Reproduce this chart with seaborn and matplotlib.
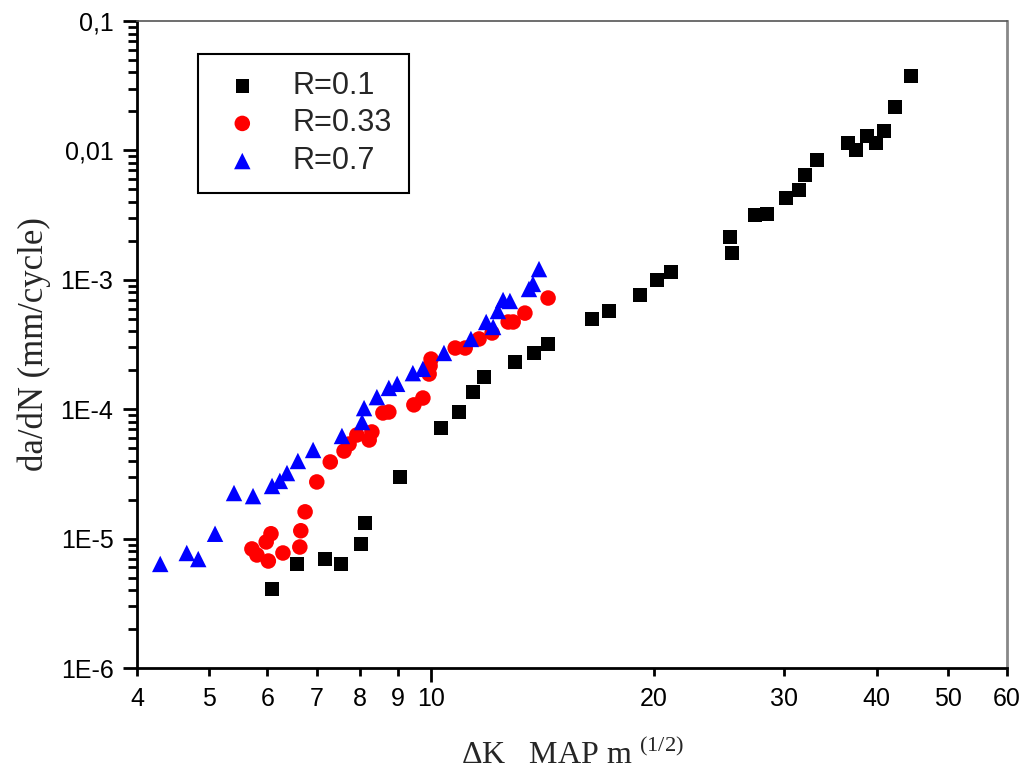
import numpy as np
import pandas as pd
import seaborn as sns
import matplotlib.pyplot as plt
from matplotlib.ticker import FixedLocator, FixedFormatter, NullFormatter, LogLocator

# R=0.1
dk_r01 = [6.09, 6.58, 7.18, 7.55, 8.03, 8.13, 9.07, 10.30, 10.90, 11.38, 11.78, 12.97,
          13.77, 14.38, 16.49, 17.39, 19.14, 20.19, 21.09, 25.34, 25.50, 27.38, 28.42,
          30.16, 31.41, 32.0, 33.22, 36.58, 37.50, 38.81, 39.9, 40.91, 42.33, 44.51]
rate_r01 = [4.08e-6, 6.37e-6, 6.95e-6, 6.37e-6, 9.08e-6, 1.32e-5, 2.99e-5, 7.16e-5, 9.51e-5,
            1.36e-4, 1.77e-4, 2.32e-4, 2.72e-4, 3.19e-4, 4.98e-4, 5.74e-4, 7.63e-4, 9.96e-4,
            1.15e-3, 2.14e-3, 1.61e-3, 3.17e-3, 3.23e-3, 4.29e-3, 4.94e-3, 6.46e-3, 8.43e-3,
            1.14e-2, 1.01e-2, 1.29e-2, 1.14e-2, 1.41e-2, 2.16e-2, 3.76e-2]

# R=0.33
dk_r033 = [5.72, 5.81, 6.02, 5.98, 6.07, 6.30, 6.64, 6.66, 6.75, 7.00, 7.30, 7.62, 7.74,
           7.93, 8.24, 8.31, 8.60, 8.76, 9.47, 9.74, 9.93, 9.96, 9.99, 10.77, 11.11, 11.60,
           12.08, 12.70, 12.90, 13.38, 14.38]
rate_r033 = [8.32e-6, 7.47e-6, 6.71e-6, 9.42e-6, 1.09e-5, 7.74e-6, 8.61e-6, 1.15e-5, 1.61e-5,
             2.74e-5, 3.91e-5, 4.75e-5, 5.38e-5, 6.32e-5, 5.78e-5, 6.67e-5, 9.35e-5, 9.51e-5,
             1.08e-4, 1.22e-4, 1.87e-4, 2.16e-4, 2.44e-4, 2.97e-4, 2.97e-4, 3.49e-4, 3.88e-4,
             4.72e-4, 4.72e-4, 5.53e-4, 7.23e-4]

# R=0.7
dk_r07 = [4.30, 4.67, 4.84, 5.10, 5.41, 5.74, 6.09, 6.24, 6.38, 6.60, 6.92, 7.57, 8.06,
          8.11, 8.44, 8.76, 8.99, 9.44, 9.74, 10.40, 11.31, 11.86, 12.12, 12.30, 12.50,
          12.77, 13.55, 13.72, 13.98]
rate_r07 = [6.37e-6, 7.74e-6, 6.95e-6, 1.09e-5, 2.25e-5, 2.13e-5, 2.55e-5, 2.79e-5, 3.21e-5,
            3.98e-5, 4.84e-5, 6.21e-5, 7.96e-5, 1.02e-4, 1.24e-4, 1.46e-4, 1.57e-4, 1.90e-4,
            2.05e-4, 2.72e-4, 3.49e-4, 4.72e-4, 4.32e-4, 5.74e-4, 6.98e-4, 6.86e-4, 8.49e-4,
            9.29e-4, 1.21e-3]

y_ticks = [1e-6, 1e-5, 1e-4, 1e-3, 1e-2, 1e-1]
y_labels = ['1E-6', '1E-5', '1E-4', '1E-3', '0,01', '0,1']
x_ticks = [4, 5, 6, 7, 8, 9, 20, 30, 40, 50, 60]

series = [
    ('R=0.1', dk_r01, rate_r01, 'black', 's', 95),
    ('R=0.33', dk_r033, rate_r033, 'red', 'o', 125),
    ('R=0.7', dk_r07, rate_r07, 'blue', '^', 140),
]

sns.set_theme(style="white")
plt.rcParams['font.family'] = ['Liberation Sans', 'DejaVu Sans']
plt.rcParams['mathtext.fontset'] = 'custom'
plt.rcParams['mathtext.rm'] = 'Liberation Serif'

fig = plt.figure(figsize=(10.24, 7.71), dpi=100)
ax = fig.add_axes([137 / 1024, 1 - 668 / 771, 870 / 1024, 647 / 771])

for name, xs, ys, col, mk, size in series:
    df = pd.DataFrame({'dk': xs, 'rate': ys})
    sns.scatterplot(data=df, x='dk', y='rate', color=col, marker=mk, s=size,
                    edgecolor='none', linewidth=0, label=name, ax=ax)

ax.set_xscale('log')
ax.set_yscale('log')
ax.set_xlim(4, 60)
ax.set_ylim(1e-6, 0.1)

ax.yaxis.set_major_locator(FixedLocator(y_ticks))
ax.yaxis.set_major_formatter(FixedFormatter(y_labels))
ax.yaxis.set_minor_locator(LogLocator(base=10, subs=np.arange(2, 10), numticks=20))
ax.yaxis.set_minor_formatter(NullFormatter())

ax.xaxis.set_major_locator(FixedLocator([10]))
ax.xaxis.set_major_formatter(FixedFormatter(['10']))
ax.xaxis.set_minor_locator(FixedLocator(x_ticks))
ax.xaxis.set_minor_formatter(FixedFormatter([str(v) for v in x_ticks]))

ax.tick_params(axis='both', which='both', direction='out', color='black', width=2,
               labelcolor='black', bottom=True, left=True, top=False, right=False)
ax.tick_params(axis='y', which='major', length=10, pad=7, labelsize=18)
ax.tick_params(axis='y', which='minor', length=6.5)
ax.tick_params(axis='x', which='major', length=10, pad=4, labelsize=18)
ax.tick_params(axis='x', which='minor', length=6, pad=8, labelsize=18)

for side in ['left', 'bottom']:
    ax.spines[side].set_color('black')
    ax.spines[side].set_linewidth(2)
ax.spines['top'].set_color('#555555')
ax.spines['top'].set_linewidth(1.2)
ax.spines['right'].set_color('#888888')
ax.spines['right'].set_linewidth(2)

ax.set_ylabel('da/dN (mm/cycle)', family='Liberation Serif', fontsize=25, labelpad=7)
ax.set_xlabel('ΔK   MAP m $^{(1/2)}$', family='Liberation Serif', fontsize=23, labelpad=19)

leg = ax.legend(loc='upper left', bbox_to_anchor=(0.0701, 0.949), borderaxespad=0,
                fontsize=22, frameon=True, fancybox=False, framealpha=1,
                handletextpad=0.75, labelspacing=0.25, borderpad=0.55, handlelength=1.8)
leg.get_frame().set_edgecolor('black')
leg.get_frame().set_linewidth(1.5)

fig.savefig('out.png', dpi=100)
